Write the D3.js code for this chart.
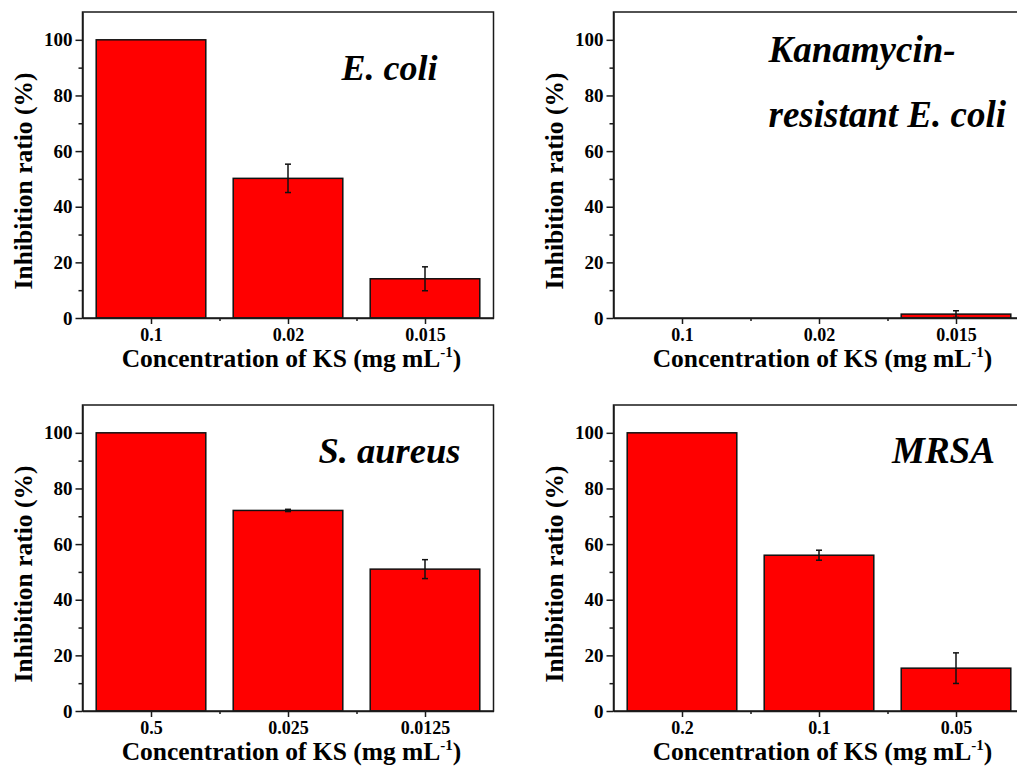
<!DOCTYPE html>
<html>
<head>
<meta charset="utf-8">
<script src="https://cdn.jsdelivr.net/npm/d3@7"></script>
<style>
  body { margin: 0; background: #fff; }
  text { font-family: "Liberation Serif", "Times New Roman", serif; font-weight: bold; fill: #000; }
</style>
</head>
<body>
<div class="vis-bars"></div>
<script>
// values (inhibition ratio, %)
const ecoliConc = ["0.1", "0.02", "0.015"];
const ecoliInhib = [100, 50.2, 14.1];
const ecoliErr = [0, 5.1, 4.3];

const kanaConc = ["0.1", "0.02", "0.015"];
const kanaInhib = [0, 0, 1.4];
const kanaErr = [0, 0, 1.2];

const saureusConc = ["0.5", "0.025", "0.0125"];
const saureusInhib = [100, 72.1, 51.0];
const saureusErr = [0, 0.4, 3.4];

const mrsaConc = ["0.2", "0.1", "0.05"];
const mrsaInhib = [100, 56.0, 15.4];
const mrsaErr = [0, 1.8, 5.5];

const yMajorTicks = [0, 20, 40, 60, 80, 100];
const yMinorTicks = [10, 30, 50, 70, 90];

const panels = [
  { conc: ecoliConc, inhib: ecoliInhib, err: ecoliErr, label: ["E. coli"], left: 82.5, top: 12, lx: 259, ly: [68], fs: 36 },
  { conc: kanaConc, inhib: kanaInhib, err: kanaErr, label: ["Kanamycin-", "resistant E. coli"], left: 613.5, top: 12, lx: 155, ly: [50, 115], fs: 37 },
  { conc: saureusConc, inhib: saureusInhib, err: saureusErr, label: ["S. aureus"], left: 82.5, top: 405, lx: 236, ly: [58], fs: 36.5 },
  { conc: mrsaConc, inhib: mrsaInhib, err: mrsaErr, label: ["MRSA"], left: 613.5, top: 405, lx: 278.5, ly: [58], fs: 37 }
];

const width = 411;
const height = 306;
const ink = "#1a1a1a";

const svg = d3.select(".vis-bars").append("svg")
    .attr("width", 1017)
    .attr("height", 769);

panels.forEach(function(p) {
  const g = svg.append("g")
      .attr("transform", "translate(" + p.left + "," + p.top + ")");

  const x = d3.scaleBand()
      .domain(p.conc)
      .range([0, width])
      .paddingInner(0.2)
      .paddingOuter(0.1);
  // same positions as a linear scale, for major/minor ticks
  const xt = d3.scaleLinear().domain([0.5, 3.5]).range([0, width]);
  const y = d3.scaleLinear().domain([0, 110]).range([height, 0]);

  // bars
  g.selectAll(".bar")
      .data(p.inhib)
      .enter().append("rect")
      .attr("x", function(d, i) { return x(p.conc[i]); })
      .attr("width", x.bandwidth())
      .attr("y", function(d) { return y(d); })
      .attr("height", function(d) { return height - y(d); })
      .attr("fill", "#ff0000")
      .attr("stroke", "#111")
      .attr("stroke-width", 1.5);

  // error bars
  const eb = g.selectAll(".err")
      .data(p.inhib.map(function(d, i) { return { v: d, e: p.err[i], c: p.conc[i] }; })
        .filter(function(d) { return d.e > 0; }))
      .enter().append("g")
      .attr("stroke", "#111")
      .attr("stroke-width", 1.5);
  eb.append("line")
      .attr("x1", function(d) { return x(d.c) + x.bandwidth() / 2; })
      .attr("x2", function(d) { return x(d.c) + x.bandwidth() / 2; })
      .attr("y1", function(d) { return y(d.v + d.e); })
      .attr("y2", function(d) { return y(Math.max(0, d.v - d.e)); });
  [1, -1].forEach(function(s) {
    eb.append("line")
        .attr("x1", function(d) { return x(d.c) + x.bandwidth() / 2 - 3; })
        .attr("x2", function(d) { return x(d.c) + x.bandwidth() / 2 + 3; })
        .attr("y1", function(d) { return y(Math.max(0, d.v + s * d.e)); })
        .attr("y2", function(d) { return y(Math.max(0, d.v + s * d.e)); });
  });

  // frame
  g.append("rect")
      .attr("width", width)
      .attr("height", height)
      .attr("fill", "none")
      .attr("stroke", ink)
      .attr("stroke-width", 1.5);

  // x axis
  g.append("g")
      .attr("transform", "translate(0," + height + ")")
      .call(d3.axisBottom(xt).tickValues([1, 2, 3])
        .tickFormat(function(d) { return p.conc[d - 1]; })
        .tickSize(6).tickSizeOuter(0).tickPadding(4))
      .selectAll(".tick text").attr("font-size", 18);
  g.append("g")
      .attr("transform", "translate(0," + height + ")")
      .call(d3.axisBottom(xt).tickValues([1.5, 2.5]).tickFormat("").tickSize(3).tickSizeOuter(0))
      .select(".domain").remove();

  // y axis
  g.append("g")
      .call(d3.axisLeft(y).tickValues(yMajorTicks).tickSize(7).tickSizeOuter(0).tickPadding(3))
      .selectAll(".tick text").attr("font-size", 19);
  g.append("g")
      .call(d3.axisLeft(y).tickValues(yMinorTicks).tickFormat("").tickSize(4).tickSizeOuter(0))
      .select(".domain").remove();

  g.selectAll(".domain, .tick line")
      .attr("stroke", ink)
      .attr("stroke-width", 1.5);
  g.selectAll(".tick text").attr("fill", "#000");

  // axis titles
  const xTitle = g.append("text")
      .attr("x", 209)
      .attr("y", height + 49)
      .attr("text-anchor", "middle")
      .attr("font-size", 25.5);
  xTitle.append("tspan").text("Concentration of KS (mg mL");
  xTitle.append("tspan").attr("font-size", 15).attr("dy", -10).text("-1");
  xTitle.append("tspan").attr("dy", 10).text(")");

  g.append("text")
      .attr("transform", "translate(-51," + (height / 2 + 16) + ") rotate(-90)")
      .attr("text-anchor", "middle")
      .attr("font-size", 25.5)
      .text("Inhibition ratio (%)");

  // panel label
  p.label.forEach(function(t, i) {
    g.append("text")
        .attr("x", p.lx)
        .attr("y", p.ly[i])
        .attr("font-size", p.fs)
        .attr("font-style", "italic")
        .text(t);
  });
});
</script>
</body>
</html>
